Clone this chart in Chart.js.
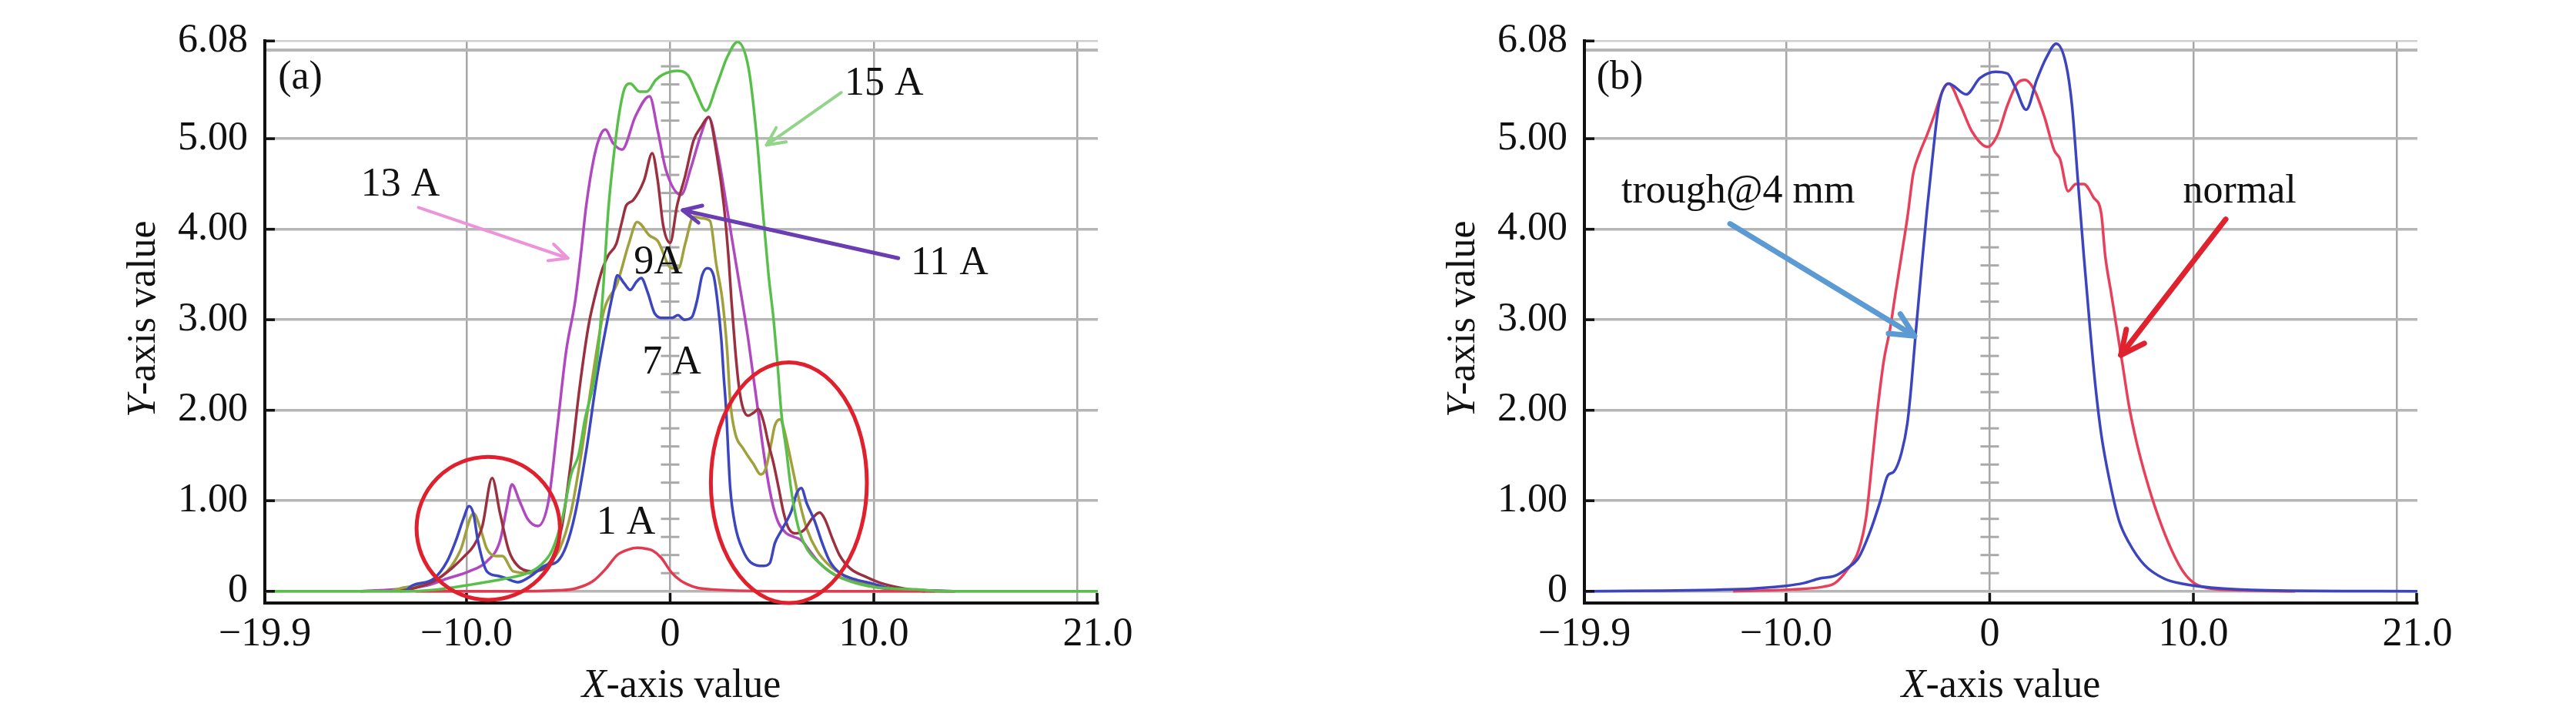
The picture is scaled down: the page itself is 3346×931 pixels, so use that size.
<!DOCTYPE html>
<html>
<head>
<meta charset="utf-8">
<script src="https://cdn.jsdelivr.net/npm/chart.js@4.4.1/dist/chart.umd.min.js"></script>
<style>
  html, body { margin: 0; padding: 0; background: #fff; }
  .panel { position: absolute; top: 0; width: 1632px; height: 931px; }
  #panelA { left: 0; }
  #panelB { left: 1714px; }
</style>
</head>
<body>
<div class="panel" id="panelA"><canvas id="chartA" width="1632" height="931"></canvas></div>
<div class="panel" id="panelB"><canvas id="chartB" width="1632" height="931"></canvas></div>
<script>
// axis ticks (shared by both panels)
const xTickValues = [-19.9, -10, 0, 10, 20, 21];
const xTickLabels = ['\u221219.9', '\u221210.0', '0', '10.0', '', '21.0'];
const yTickValues = [0, 1, 2, 3, 4, 5, 5.98, 6.08];
const yTickLabels = ['0', '1.00', '2.00', '3.00', '4.00', '5.00', '', '6.08'];

// panel (a): current series, [x, y]
const a15A = [[-19.9,0],[-13,0],[-11.4,0.02],[-9.87,0.07],[-8.1,0.14],[-7.0,0.2],[-6.4,0.28],[-5.8,0.45],[-5.3,0.8],[-4.85,1.3],[-4.5,1.5],[-4.2,1.88],[-3.6,2.52],[-3.3,3.3],[-3.04,4.2],[-2.77,4.81],[-2.5,5.28],[-2.23,5.56],[-1.96,5.61],[-1.5,5.52],[-1.15,5.52],[-0.7,5.65],[-0.34,5.71],[0.34,5.75],[0.88,5.7],[1.3,5.5],[1.76,5.31],[2.3,5.6],[2.8,5.9],[3.31,6.07],[3.85,5.78],[4.26,5.0],[4.53,4.26],[4.83,3.5],[5.08,3.0],[5.27,2.52],[5.46,1.97],[5.71,1.55],[5.9,1.19],[6.09,0.92],[6.34,0.67],[6.71,0.47],[7.34,0.31],[8.09,0.18],[9.1,0.09],[10.23,0.04],[12.1,0.02],[13.5,0],[21,0]];
const a13A = [[-15.2,0],[-13,0.03],[-12.0,0.06],[-10.95,0.14],[-9.87,0.22],[-9.0,0.33],[-8.35,0.56],[-8.0,0.95],[-7.77,1.18],[-7.4,1.0],[-7.0,0.8],[-6.5,0.72],[-5.97,1.0],[-5.53,1.83],[-5.1,2.66],[-4.66,3.21],[-4.39,3.71],[-4.12,4.26],[-3.72,4.81],[-3.4,5.05],[-3.18,5.1],[-2.8,4.95],[-2.36,4.88],[-1.7,5.25],[-1.01,5.47],[-0.61,5.09],[-0.2,4.65],[0.54,4.38],[1.01,4.67],[1.49,5.03],[1.89,5.24],[2.36,4.81],[2.77,4.26],[3.25,3.6],[3.58,3.15],[3.83,2.79],[4.08,2.38],[4.33,1.97],[4.58,1.55],[4.83,1.19],[5.08,0.92],[5.33,0.75],[5.71,0.64],[6.09,0.6],[6.46,0.56],[6.84,0.45],[7.34,0.31],[8.09,0.18],[9.1,0.1],[10.23,0.04],[11.8,0.01],[13,0]];
const a11A = [[-13.25,0],[-12.47,0.04],[-11.6,0.11],[-10.74,0.25],[-10.09,0.39],[-9.65,0.5],[-9.22,0.72],[-8.74,1.25],[-8.35,0.86],[-7.92,0.45],[-7.48,0.28],[-6.83,0.22],[-6.18,0.25],[-5.64,0.45],[-5.31,0.72],[-4.88,1.41],[-4.45,2.24],[-4.01,2.93],[-3.7,3.25],[-3.31,3.57],[-3.04,3.71],[-2.64,3.84],[-2.36,4.09],[-2.16,4.26],[-1.82,4.32],[-1.28,4.54],[-0.88,4.84],[-0.61,4.54],[-0.34,4.04],[0,3.85],[0.34,4.26],[0.74,4.59],[1.15,4.98],[1.55,5.14],[1.89,5.24],[2.3,4.81],[2.64,4.26],[2.89,3.62],[3.01,3.21],[3.2,2.66],[3.39,2.24],[3.58,2.02],[3.83,1.94],[4.08,1.97],[4.33,2.01],[4.58,1.88],[4.83,1.63],[5.08,1.41],[5.33,1.14],[5.58,0.86],[5.83,0.69],[6.21,0.64],[6.59,0.68],[6.96,0.8],[7.34,0.87],[7.59,0.8],[7.97,0.58],[8.34,0.39],[8.85,0.25],[9.6,0.16],[10.35,0.09],[11.48,0.03],[12.5,0]];
const a9A = [[-13.7,0],[-13.1,0.04],[-12.0,0.08],[-10.95,0.22],[-10.3,0.45],[-9.65,0.86],[-9.3,0.68],[-9.0,0.47],[-8.57,0.39],[-8.24,0.39],[-7.7,0.22],[-6.83,0.2],[-5.97,0.31],[-5.42,0.47],[-4.88,0.86],[-4.34,1.55],[-3.8,2.38],[-3.25,3.1],[-2.6,3.4],[-2.03,3.84],[-1.62,4.08],[-1.01,3.93],[-0.61,3.87],[0.07,3.57],[0.41,3.57],[0.74,3.84],[1.15,4.14],[1.55,4.12],[1.96,4.09],[2.26,3.62],[2.57,3.21],[2.8,2.66],[2.95,2.1],[3.2,1.74],[3.58,1.58],[4.08,1.41],[4.45,1.29],[4.7,1.36],[4.96,1.63],[5.14,1.83],[5.4,1.9],[5.58,1.8],[5.83,1.55],[6.09,1.27],[6.34,1.0],[6.71,0.69],[7.21,0.45],[7.84,0.28],[8.59,0.17],[9.6,0.09],[10.85,0.03],[12.5,0]];
const a7A = [[-13.0,0],[-12.69,0.06],[-11.6,0.14],[-10.95,0.33],[-10.52,0.56],[-10.15,0.8],[-9.87,0.94],[-9.65,0.85],[-9.44,0.56],[-9.0,0.22],[-8.46,0.17],[-8.13,0.15],[-7.48,0.1],[-6.83,0.17],[-6.18,0.28],[-5.53,0.33],[-5.1,0.5],[-4.66,0.86],[-4.12,1.55],[-3.58,2.38],[-3.04,3.04],[-2.8,3.3],[-2.59,3.49],[-2.25,3.4],[-1.96,3.33],[-1.65,3.42],[-1.42,3.46],[-1.1,3.3],[-0.76,3.07],[-0.33,3.02],[0.1,3.02],[0.38,3.05],[0.7,3.0],[1.07,3.03],[1.32,3.21],[1.57,3.49],[1.82,3.57],[2.13,3.49],[2.32,3.21],[2.51,2.79],[2.63,2.38],[2.76,1.97],[2.85,1.55],[2.95,1.14],[3.2,0.72],[3.58,0.45],[3.95,0.32],[4.58,0.28],[4.89,0.31],[5.14,0.53],[5.46,0.67],[5.96,0.89],[6.21,1.08],[6.44,1.14],[6.71,0.97],[7.09,0.78],[7.47,0.53],[7.84,0.33],[8.34,0.2],[9.1,0.13],[9.85,0.09],[10.85,0.03],[12.5,0.01],[13.9,0]];
const a1A = [[-12.5,0],[-8,0],[-5.5,0.01],[-4.66,0.03],[-3.8,0.11],[-3.15,0.25],[-2.6,0.4],[-2.06,0.46],[-1.6,0.48],[-1.19,0.47],[-0.87,0.45],[-0.44,0.37],[0.06,0.21],[0.5,0.12],[0.82,0.08],[1.3,0.04],[2.07,0.02],[6,0],[10,0],[14,0]];

// panel (b): profile series, [x, y]
const bTrough = [[-19.9,0],[-12.6,0.02],[-10,0.06],[-9.13,0.09],[-8.37,0.14],[-7.6,0.17],[-7.02,0.25],[-6.44,0.37],[-5.87,0.66],[-5.38,0.99],[-5.0,1.28],[-4.71,1.32],[-4.33,1.53],[-4.04,1.86],[-3.85,2.27],[-3.65,2.81],[-3.37,3.51],[-3.08,4.21],[-2.79,4.83],[-2.5,5.37],[-2.02,5.61],[-1.15,5.49],[-0.48,5.67],[0.29,5.74],[0.87,5.72],[1.25,5.57],[1.79,5.32],[2.31,5.65],[2.79,5.9],[3.27,6.05],[3.75,5.82],[4.04,5.37],[4.33,4.54],[4.62,3.71],[4.9,2.97],[5.19,2.27],[5.48,1.73],[5.87,1.24],[6.35,0.78],[6.83,0.54],[7.6,0.29],[8.56,0.14],[9.52,0.08],[10.87,0.04],[13.6,0.01],[21,0]];
const bNormal = [[-12.6,0],[-9.7,0.02],[-8.17,0.05],[-7.6,0.09],[-7.02,0.23],[-6.44,0.45],[-6.06,0.83],[-5.77,1.44],[-5.48,2.06],[-5.19,2.56],[-4.9,2.89],[-4.62,3.3],[-4.33,3.71],[-4.04,4.13],[-3.75,4.62],[-3.46,4.83],[-3.08,5.04],[-2.69,5.28],[-2.31,5.53],[-2.02,5.61],[-1.44,5.37],[-0.87,5.08],[-0.1,4.91],[0.38,5.04],[0.87,5.37],[1.35,5.61],[1.73,5.65],[2.21,5.53],[2.69,5.24],[3.17,4.87],[3.46,4.77],[3.85,4.42],[4.23,4.5],[4.62,4.5],[5.1,4.35],[5.48,4.17],[5.67,3.71],[5.96,3.3],[6.25,2.89],[6.54,2.48],[6.83,2.06],[7.21,1.65],[7.69,1.24],[8.27,0.83],[8.94,0.45],[9.52,0.21],[10.1,0.08],[10.87,0.03],[12.4,0.01],[15,0]];

const FONT = "'Liberation Serif', 'Times New Roman', serif";
const FONT_SIZE = 52;

// annotations, in data units
const notesA = {
  labels: [
    { text: '(a)', x: -18.16, y: 5.67 },
    { text: '15 A', x: 10.5, y: 5.6 },
    { text: '13 A', x: -13.25, y: 4.49 },
    { text: '11 A', x: 13.72, y: 3.62 },
    { text: '9A', x: -0.58, y: 3.63 },
    { text: '7 A', x: 0.08, y: 2.52 },
    { text: '1 A', x: -2.17, y: 0.75 }
  ],
  arrows: [
    { from: [8.4, 5.51], to: [4.73, 4.93], color: '#93d48b', width: 4, head: 26 },
    { from: [-12.36, 4.24], to: [-5.02, 3.68], color: '#ec94da', width: 4, head: 26 },
    { from: [11.2, 3.68], to: [0.62, 4.21], color: '#6a3db2', width: 5, head: 26 }
  ],
  ellipses: [
    { cx: -8.93, cy: 0.695, rx: 3.52, ry: 0.79 },
    { cx: 5.83, cy: 1.2, rx: 3.83, ry: 1.33 }
  ]
};
const notesB = {
  labels: [
    { text: '(b)', x: -18.16, y: 5.67 },
    { text: 'trough@4 mm', x: -12.35, y: 4.41 },
    { text: 'normal', x: 12.27, y: 4.41 }
  ],
  arrows: [
    { from: [-12.75, 4.06], to: [-3.69, 2.82], color: '#5b9ad3', width: 7, head: 34 },
    { from: [11.59, 4.11], to: [6.44, 2.61], color: '#e0222f', width: 7, head: 34 }
  ],
  ellipses: []
};

function drawMixed(ctx, parts, cx, cy, angle) {
  ctx.save();
  ctx.translate(cx, cy);
  ctx.rotate(angle);
  ctx.textBaseline = 'middle';
  ctx.fillStyle = '#111';
  let total = 0;
  parts.forEach(p => {
    ctx.font = (p.italic ? 'italic ' : '') + FONT_SIZE + 'px ' + FONT;
    p.w = ctx.measureText(p.t).width;
    total += p.w;
  });
  let cur = -total / 2;
  parts.forEach(p => {
    ctx.font = (p.italic ? 'italic ' : '') + FONT_SIZE + 'px ' + FONT;
    ctx.textAlign = 'left';
    ctx.fillText(p.t, cur, 0);
    cur += p.w;
  });
  ctx.restore();
}

function drawArrow(ctx, x1, y1, x2, y2, color, width, head) {
  const ang = Math.atan2(y2 - y1, x2 - x1);
  ctx.save();
  ctx.strokeStyle = color;
  ctx.lineWidth = width;
  ctx.lineCap = 'round';
  ctx.lineJoin = 'round';
  ctx.beginPath();
  ctx.moveTo(x1, y1);
  ctx.lineTo(x2, y2);
  ctx.stroke();
  ctx.beginPath();
  ctx.moveTo(x2 - head * Math.cos(ang - 0.45), y2 - head * Math.sin(ang - 0.45));
  ctx.lineTo(x2, y2);
  ctx.lineTo(x2 - head * Math.cos(ang + 0.45), y2 - head * Math.sin(ang + 0.45));
  ctx.stroke();
  ctx.restore();
}

function decorPlugin(notes) {
  return {
    id: 'decor',
    beforeDatasetsDraw(chart) {
      const { ctx, scales: { x, y } } = chart;
      // small dashes along the x = 0 line
      const x0 = x.getPixelForValue(0);
      ctx.save();
      ctx.strokeStyle = '#a9a9a9';
      ctx.lineWidth = 3;
      for (let k = 1; k < 30; k++) {
        if (k % 5 === 0) continue;
        const py = y.getPixelForValue(k * 0.2);
        ctx.beginPath();
        ctx.moveTo(x0 - 12, py);
        ctx.lineTo(x0 + 12, py);
        ctx.stroke();
      }
      ctx.restore();
    },
    afterDatasetsDraw(chart) {
      const { ctx, chartArea: a, scales: { x, y } } = chart;
      ctx.save();
      // inward tick marks
      ctx.strokeStyle = '#111';
      ctx.lineWidth = 3.5;
      yTickValues.forEach((v, i) => {
        if (!yTickLabels[i]) return;
        const py = y.getPixelForValue(v);
        ctx.beginPath(); ctx.moveTo(a.left, py); ctx.lineTo(a.left + 13, py); ctx.stroke();
      });
      xTickValues.forEach((v, i) => {
        if (!xTickLabels[i] || i === 0) return;
        const px = Math.min(x.getPixelForValue(v), a.right - 1);
        ctx.beginPath(); ctx.moveTo(px, a.bottom); ctx.lineTo(px, a.bottom - 13); ctx.stroke();
      });
      // ellipses
      ctx.strokeStyle = '#e0202c';
      ctx.lineWidth = 5;
      notes.ellipses.forEach(e => {
        const cx = x.getPixelForValue(e.cx), cy = y.getPixelForValue(e.cy);
        const rx = Math.abs(x.getPixelForValue(e.cx + e.rx) - cx);
        const ry = Math.abs(y.getPixelForValue(e.cy + e.ry) - cy);
        ctx.beginPath();
        ctx.ellipse(cx, cy, rx, ry, 0, 0, Math.PI * 2);
        ctx.stroke();
      });
      // arrows
      notes.arrows.forEach(r => {
        drawArrow(ctx, x.getPixelForValue(r.from[0]), y.getPixelForValue(r.from[1]),
          x.getPixelForValue(r.to[0]), y.getPixelForValue(r.to[1]), r.color, r.width, r.head);
      });
      // labels
      ctx.fillStyle = '#111';
      ctx.font = FONT_SIZE + 'px ' + FONT;
      ctx.textAlign = 'center';
      ctx.textBaseline = 'middle';
      notes.labels.forEach(l => {
        ctx.fillText(l.text, x.getPixelForValue(l.x), y.getPixelForValue(l.y));
      });
      ctx.restore();
      // axis titles
      drawMixed(ctx, [{ t: 'X', italic: true }, { t: '-axis value' }], (a.left + a.right) / 2, a.bottom + 108, 0);
      drawMixed(ctx, [{ t: 'Y', italic: true }, { t: '-axis value' }], a.left - 157, (a.top + a.bottom) / 2 - 4, -Math.PI / 2);
    }
  };
}

function makeChart(id, series, notes) {
  const datasets = series.map(s => ({
    label: s.label,
    data: s.pairs.map(p => ({ x: p[0], y: p[1] })),
    borderColor: s.color,
    borderWidth: 3.5,
    pointRadius: 0,
    fill: false,
    cubicInterpolationMode: 'monotone'
  }));
  const tickFont = { family: FONT, size: FONT_SIZE };
  return new Chart(document.getElementById(id), {
    type: 'line',
    data: { datasets: datasets },
    options: {
      responsive: false,
      animation: false,
      layout: { padding: { left: 0, top: 34, right: 206, bottom: 0 } },
      plugins: { legend: { display: false }, tooltip: { enabled: false } },
      scales: {
        x: {
          type: 'linear', min: -19.9, max: 21,
          afterBuildTicks: s => { s.ticks = xTickValues.map(v => ({ value: v })); },
          afterFit: s => { s.height = 148; },
          ticks: { autoSkip: false, maxRotation: 0, padding: 10, color: '#111', font: tickFont,
                   callback: (v, i) => xTickLabels[i] },
          grid: {
            drawTicks: false,
            lineWidth: 2.5,
            color: c => (c.tick && (c.tick.value === -19.9 || c.tick.value === 21)) ? 'rgba(0,0,0,0)' : '#a6a6a6'
          },
          border: { display: true, color: '#111', width: 4 }
        },
        y: {
          type: 'linear', min: -0.13, max: 6.08,
          afterBuildTicks: s => { s.ticks = yTickValues.map(v => ({ value: v })); },
          afterFit: s => { s.width = 344; },
          ticks: { autoSkip: false, padding: 22, color: '#111', font: tickFont,
                   callback: (v, i) => yTickLabels[i] },
          grid: {
            drawTicks: false,
            lineWidth: c => (c.tick && c.tick.value === 6.08) ? 2.5 : (c.tick && c.tick.value === 5.98 ? 4 : 3.5),
            color: c => (c.tick && c.tick.value === 6.08) ? '#cfcfcf' : '#b6b6b6'
          },
          border: { display: true, color: '#111', width: 4 }
        }
      }
    },
    plugins: [decorPlugin(notes)]
  });
}

makeChart('chartA', [
  { label: '15 A', pairs: a15A, color: '#58c04a' },
  { label: '1 A', pairs: a1A, color: '#e23a50' },
  { label: '7 A', pairs: a7A, color: '#3c46c0' },
  { label: '11 A', pairs: a11A, color: '#9a3040' },
  { label: '9 A', pairs: a9A, color: '#a0a03c' },
  { label: '13 A', pairs: a13A, color: '#b048c0' }
], notesA);

makeChart('chartB', [
  { label: 'trough@4 mm', pairs: bTrough, color: '#3c44c0' },
  { label: 'normal', pairs: bNormal, color: '#e8405a' }
], notesB);
</script>
</body>
</html>
